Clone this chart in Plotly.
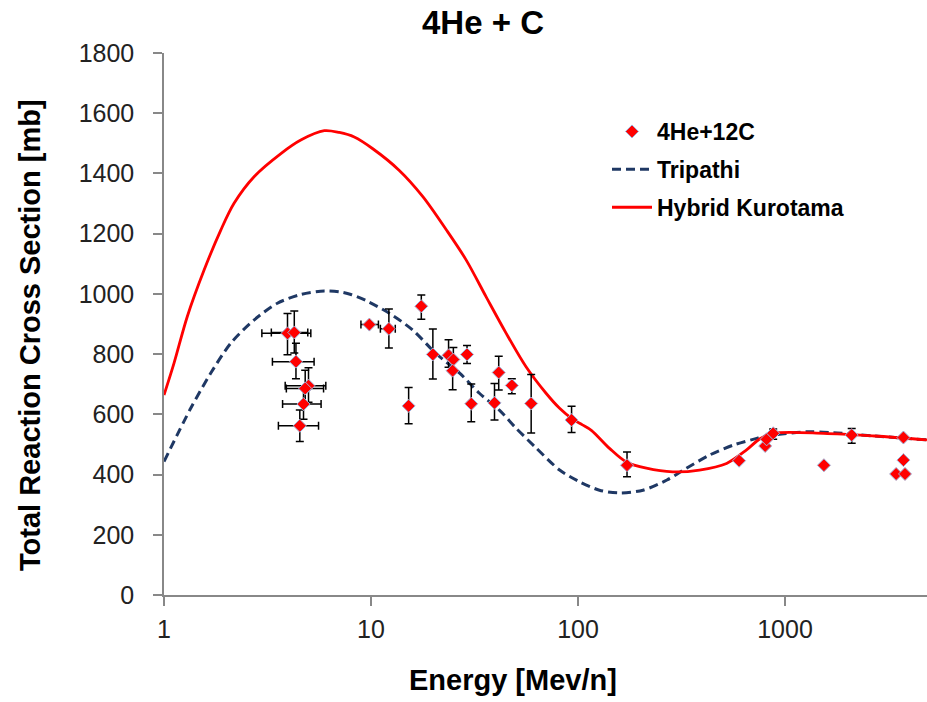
import numpy as np
import plotly.graph_objects as go

# ---- experimental data: 4He + 12C ----
exp_E = [3.95, 4.26, 4.34, 4.99, 4.81, 4.72, 4.53, 9.82, 12.2, 15.2, 17.5, 19.9, 23.7, 25.0, 24.8,
         29.1, 30.5, 39.5, 41.4, 47.9, 59.4, 93.1, 172.5, 600, 802, 815, 877, 1542, 2100,
         3442, 3733, 3733, 3800]
exp_sigma = [869, 872, 775, 695, 686, 634, 562, 898, 884, 628, 959, 799, 796, 782, 745,
             799, 635, 638, 739, 696, 636, 581, 431, 446, 495, 517, 537, 431, 531,
             402, 523, 448, 402]
exp_err_up = [66, 71, 61, 60, 60, 50, 52, None, 66, 61, 37, 84, 52, 40, 40,
              30, 66, 64, 54, 22, 96, 46, 44, None, None, None, 14, None, 22,
              None, None, None, None]
exp_err_dn = [71, 68, 57, 55, 55, 50, 52, None, 64, 59, 43, 82, 40, 40, 63,
              30, 60, 57, 58, 28, 98, 41, 38, None, None, None, 20, None, 27,
              None, None, None, None]
exp_E_lo = [2.97, 3.3, 3.34, 3.85, 3.9, 3.74, 3.57, 8.94, 11.1, None, None, None, None, None, None,
            None, None, None, None, None, None, None, None, None, None, None, None, None, None,
            None, None, None, None]
exp_E_hi = [5.12, 4.95, 5.31, 6.05, 5.9, 5.74, 5.58, 10.86, 13.1, None, None, None, None, None, None,
            None, None, None, None, None, None, None, None, None, None, None, None, None, None,
            None, None, None, None]

# ---- Tripathi model ----
trip_E = [1, 1.346, 1.683, 2.10, 2.73, 3.53, 4.58, 5.95, 7.03, 8.0, 9.45, 12.3, 15.9, 20.6, 26.8,
          33.4, 41.7, 50.2, 61.8, 81.5, 101, 127, 158, 206, 269, 334, 433, 563, 730, 812,
          1278, 1712, 2704, 4850]
trip_sigma = [443, 620, 737, 836, 914, 969, 998, 1010, 1007, 998, 978, 935, 880, 802, 737,
              670, 614, 554, 493, 415, 377, 348, 339, 348, 382, 421, 465, 498, 520, 528,
              542, 539, 528, 515]

# ---- Hybrid Kurotama model ----
kur_E = [1, 1.118, 1.296, 1.562, 1.881, 2.18, 2.73, 3.67, 4.58, 5.95, 7.03, 8.3, 10.2, 13.7, 17.8,
         23.1, 28.8, 36.0, 45.0, 56.1, 70.1, 81.5, 94.5, 105, 116, 142, 171, 214, 287, 386,
         522, 652, 757, 877, 1535, 2704, 4850]
kur_sigma = [664, 770, 925, 1079, 1212, 1301, 1390, 1466, 1511, 1542, 1536, 1521, 1482, 1410, 1323,
             1213, 1113, 990, 869, 758, 670, 620, 583, 565, 547, 487, 442, 421, 409, 415,
             437, 482, 519, 537, 537, 528, 515]

x_ticks = [1, 10, 100, 1000]
y_ticks = list(range(0, 1801, 200))


def err_arr(vals):
    return [np.nan if v is None else v for v in vals]


x_plus = [np.nan if h is None else h - e for h, e in zip(exp_E_hi, exp_E)]
x_minus = [np.nan if l is None else e - l for l, e in zip(exp_E_lo, exp_E)]

FONT = "Liberation Sans, Arial, sans-serif"

# plot-area geometry (px)
L, R, T, B = 164, 927, 53, 595
W, H = R - L, B - T

fig = go.Figure()

fig.add_trace(go.Scatter(
    x=trip_E, y=trip_sigma, mode="lines", name="Tripathi",
    line=dict(color="#1F3864", width=3, dash="9px,5px", shape="spline", smoothing=0.8),
    legendrank=2, legendgroup="b",
))
fig.add_trace(go.Scatter(
    x=kur_E, y=kur_sigma, mode="lines", name="Hybrid Kurotama",
    line=dict(color="#FF0000", width=2.8, shape="spline", smoothing=0.9),
    legendrank=3, legendgroup="c",
))
fig.add_trace(go.Scatter(
    x=exp_E, y=exp_sigma, mode="markers", name="4He+12C",
    marker=dict(symbol="diamond", size=10, color="#FF0000",
                line=dict(color="#9FB3D9", width=1)),
    error_y=dict(type="data", symmetric=False, array=err_arr(exp_err_up),
                 arrayminus=err_arr(exp_err_dn), color="black", thickness=1.5, width=4),
    error_x=dict(type="data", symmetric=False, array=x_plus,
                 arrayminus=x_minus, color="black", thickness=1.5, width=4),
    legendrank=1, legendgroup="a",
))

xmax = 10 ** ((R - L) / 207.0)

fig.update_layout(
    width=927, height=702,
    margin=dict(l=L, r=927 - R, t=T, b=702 - B),
    paper_bgcolor="white", plot_bgcolor="white",
    font=dict(family=FONT, color="#222222"),
    title=dict(text="<b>4He + C</b>", x=483 / 927, xanchor="center",
               y=1 - 22 / 702, yanchor="middle",
               font=dict(family=FONT, size=33, color="black")),
    showlegend=True,
    legend=dict(x=(607 - L) / W, y=1 - (110 - T) / H, xanchor="left", yanchor="top",
                font=dict(family=FONT, size=23, color="black", weight="bold"),
                bgcolor="rgba(0,0,0,0)", tracegroupgap=5, traceorder="grouped",
                itemwidth=40),
    annotations=[
        dict(text="<b>Total Reaction Cross Section [mb]</b>", textangle=-90,
             xref="paper", yref="paper", x=(30 - L) / W, y=(B - 335) / H,
             xanchor="center", yanchor="middle", showarrow=False,
             font=dict(family=FONT, size=29, color="black")),
        dict(text="<b>Energy [Mev/n]</b>",
             xref="paper", yref="paper", x=(513 - L) / W, y=(B - 680) / H,
             xanchor="center", yanchor="middle", showarrow=False,
             font=dict(family=FONT, size=29, color="black")),
    ],
)

fig.update_xaxes(
    type="log", range=[0, np.log10(xmax)],
    tickvals=x_ticks, ticktext=[str(v) for v in x_ticks],
    showgrid=False, zeroline=False,
    showline=True, linecolor="#888888", linewidth=1.5,
    ticks="outside", ticklen=9, tickcolor="#888888", tickwidth=1.5,
    tickfont=dict(family=FONT, size=25, color="#222222"),
    ticklabelstandoff=2,
)
fig.update_yaxes(
    range=[0, 1800], tickvals=y_ticks,
    showgrid=False, zeroline=False,
    showline=True, linecolor="#888888", linewidth=1.5,
    ticks="outside", ticklen=9, tickcolor="#888888", tickwidth=1.5,
    tickfont=dict(family=FONT, size=25, color="#222222"),
    ticklabelstandoff=14,
)

fig.write_html("out.html")
